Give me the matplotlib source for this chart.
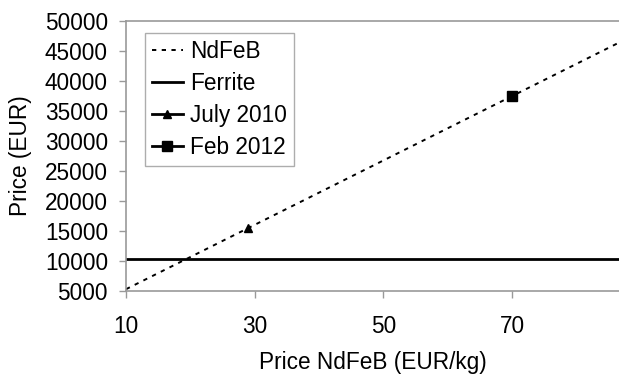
import matplotlib
matplotlib.use("Agg")
import matplotlib.pyplot as plt

plt.rcParams['font.family'] = ['Liberation Sans', 'DejaVu Sans']

# NdFeB cost line (end points of the trend line)
ndfeb_x = [10, 86.6]
ndfeb_y = [5300, 46400]

# Ferrite flat cost
ferrite_y = 10400

# price points
july_x, july_y = [29], [15500]
feb_x, feb_y = [70], [37500]

xticks = [10, 30, 50, 70]
yticks = [5000, 10000, 15000, 20000, 25000, 30000, 35000, 40000, 45000, 50000]

fig = plt.figure(figsize=(6.19, 3.74), dpi=100)
ax = fig.add_axes([126 / 619, 1 - 291 / 374, 1 - 126 / 619, (291 - 21) / 374])

ax.plot(ndfeb_x, ndfeb_y, color='black', lw=1.4, linestyle=(0, (2.2, 2.8)), label='NdFeB')
ax.axhline(ferrite_y, color='black', lw=2.0, label='Ferrite')
ax.plot(july_x, july_y, color='black', lw=2.0, marker='^', markersize=5.5, label='July 2010')
ax.plot(feb_x, feb_y, color='black', lw=2.0, marker='s', markersize=6.5, label='Feb 2012')

ax.set_xlim(10, 86.6)
ax.set_ylim(5000, 50000)
ax.set_xticks(xticks)
ax.set_yticks(yticks)

ax.spines['right'].set_visible(False)
for side in ['left', 'bottom', 'top']:
    ax.spines[side].set_color('#999999')
    ax.spines[side].set_linewidth(1.2)

ax.tick_params(axis='both', colors='#999999', labelcolor='black', length=5, width=1.0, labelsize=16.3)
ax.tick_params(axis='y', pad=8)
ax.tick_params(axis='x', pad=12)

ax.set_xlabel('Price NdFeB (EUR/kg)', fontsize=16.3, labelpad=10)
ax.set_ylabel('Price (EUR)', fontsize=16.3, labelpad=9)

leg = ax.legend(loc='upper left', bbox_to_anchor=(0.038, 0.955), fontsize=16.3, frameon=True,
                fancybox=False, edgecolor='#999999', handlelength=1.4, handletextpad=0.3,
                labelspacing=0.4, borderpad=0.3, borderaxespad=0)
leg.get_frame().set_linewidth(1.0)

fig.savefig('out.png', dpi=100)
